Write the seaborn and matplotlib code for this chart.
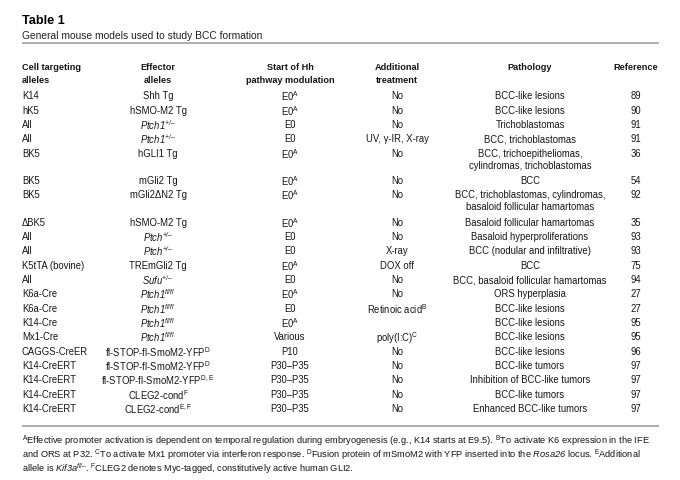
import matplotlib
matplotlib.use("Agg")
import matplotlib.pyplot as plt
from matplotlib import font_manager
import seaborn as sns
import pandas as pd

# ---------------- data ----------------
cell_alleles = ["K14", "hK5", "All", "All", "BK5", "BK5", "BK5", "ΔBK5", "All", "All",
                "K5tTA (bovine)", "All", "K6a-Cre", "K6a-Cre", "K14-Cre", "Mx1-Cre",
                "CAGGS-CreER", "K14-CreERT", "K14-CreERT", "K14-CreERT", "K14-CreERT"]
effector_alleles = ["Shh Tg", "hSMO-M2 Tg", r"$\mathsf{Ptch1}^{\mathsf{+/–}}$", r"$\mathsf{Ptch1}^{\mathsf{+/–}}$",
                    "hGLI1 Tg", "mGli2 Tg", "mGli2ΔN2 Tg", "hSMO-M2 Tg",
                    r"$\mathsf{Ptch}^{\mathsf{+/–}}$", r"$\mathsf{Ptch}^{\mathsf{+/–}}$", "TREmGli2 Tg",
                    r"$\mathsf{Sufu}^{\mathsf{+/–}}$", r"$\mathsf{Ptch1}^{\mathsf{fl/fl}}$",
                    r"$\mathsf{Ptch1}^{\mathsf{fl/fl}}$", r"$\mathsf{Ptch1}^{\mathsf{fl/fl}}$",
                    r"$\mathsf{Ptch1}^{\mathsf{fl/fl}}$",
                    r"fl-STOP-fl-SmoM2-YFP$^{\mathrm{D}}$", r"fl-STOP-fl-SmoM2-YFP$^{\mathrm{D}}$",
                    r"fl-STOP-fl-SmoM2-YFP$^{\mathrm{D,E}}$", r"CLEG2-cond$^{\mathrm{F}}$",
                    r"CLEG2-cond$^{\mathrm{E,F}}$"]
hh_start = [r"E0$^{\mathrm{A}}$", r"E0$^{\mathrm{A}}$", "E0", "E0", r"E0$^{\mathrm{A}}$",
            r"E0$^{\mathrm{A}}$", r"E0$^{\mathrm{A}}$", r"E0$^{\mathrm{A}}$", "E0", "E0",
            r"E0$^{\mathrm{A}}$", "E0", r"E0$^{\mathrm{A}}$", "E0", r"E0$^{\mathrm{A}}$",
            "Various", "P10", "P30–P35", "P30–P35", "P30–P35", "P30–P35"]
treatment = ["No", "No", "No", "UV, γ-IR, X-ray", "No", "No", "No", "No", "No", "X-ray",
             "DOX off", "No", "No", r"Retinoic acid$^{\mathrm{B}}$", "", r"poly(I:C)$^{\mathrm{C}}$",
             "No", "No", "No", "No", "No"]
pathology = ["BCC-like lesions", "BCC-like lesions", "Trichoblastomas", "BCC, trichoblastomas",
             "BCC, trichoepitheliomas,\ncylindromas, trichoblastomas", "BCC",
             "BCC, trichoblastomas, cylindromas,\nbasaloid follicular hamartomas",
             "Basaloid follicular hamartomas", "Basaloid hyperproliferations",
             "BCC (nodular and infiltrative)", "BCC", "BCC, basaloid follicular hamartomas",
             "ORS hyperplasia", "BCC-like lesions", "BCC-like lesions", "BCC-like lesions",
             "BCC-like lesions", "BCC-like tumors", "Inhibition of BCC-like tumors",
             "BCC-like tumors", "Enhanced BCC-like tumors"]
reference = ["89", "90", "91", "91", "36", "54", "92", "35", "93", "93", "75", "94",
             "27", "27", "95", "95", "96", "97", "97", "97", "97"]

headers = [["Cell targeting", "alleles"], ["Effector", "alleles"],
           ["Start of Hh", "pathway modulation"], ["Additional", "treatment"],
           ["Pathology"], ["Reference"]]

title = "Table 1"
subtitle = "General mouse models used to study BCC formation"
footnotes = [
    r"$^{\mathrm{A}}$Effective promoter activation is dependent on temporal regulation during embryogenesis (e.g., K14 starts at E9.5). $^{\mathrm{B}}$To activate K6 expression in the IFE",
    r"and ORS at P32. $^{\mathrm{C}}$To activate Mx1 promoter via interferon response. $^{\mathrm{D}}$Fusion protein of mSmoM2 with YFP inserted into the $\mathsf{Rosa26}$ locus. $^{\mathrm{E}}$Additional",
    r"allele is $\mathsf{Kif3a}^{\mathsf{fl/–}}$. $^{\mathrm{F}}$CLEG2 denotes Myc-tagged, constitutively active human GLI2.",
]

df = pd.DataFrame({"cell": cell_alleles, "effector": effector_alleles, "start": hh_start,
                   "treatment": treatment, "pathology": pathology, "reference": reference})

# ---------------- style ----------------
sns.set_theme(style="white")


def has_font(name):
    try:
        font_manager.findfont(name, fallback_to_default=False)
        return True
    except Exception:
        return False


narrow = "Liberation Sans Narrow" if has_font("Liberation Sans Narrow") else "Liberation Sans"
plt.rcParams["font.family"] = [narrow, "DejaVu Sans"]
plt.rcParams["mathtext.fontset"] = "custom"
plt.rcParams["mathtext.rm"] = narrow
plt.rcParams["mathtext.it"] = narrow + ":italic"
plt.rcParams["mathtext.sf"] = narrow + ":italic"
plt.rcParams["mathtext.bf"] = narrow + ":bold"

fig = plt.figure(figsize=(6.8, 4.81), dpi=100)
ax = fig.add_axes([0, 0, 1, 1])
ax.set_xlim(0, 680)
ax.set_ylim(481, 0)
ax.axis("off")

txt_color = "#151515"
body_fs = 6.85
head_fs = 6.55
base_off = 3.4   # from visual centre of capitals to baseline (px)
math_off = 2.0   # mathtext strings sit slightly high with baseline alignment


def put(x, y, s, **kw):
    if "$" in s:
        y += math_off
    ax.text(x, y, s, va="baseline", **kw)


# title block
ax.text(22, 20 + 4.3, title, fontsize=9.2, fontweight="bold",
        family=["Liberation Sans", "DejaVu Sans"], va="baseline", ha="left", color="#000000")
ax.text(22, 35 + 3.7, subtitle, fontsize=7.4, va="baseline", ha="left", color="#222222")
ax.plot([22, 659], [43.5, 43.5], color="#a0a0a0", lw=1.2, solid_capstyle="butt")

col_x = [22, 158, 290, 397, 530, 636]
col_ha = ["left", "center", "center", "center", "center", "center"]

# headers
for (lines, x, ha) in zip(headers, col_x, col_ha):
    for j, line in enumerate(lines):
        put(x, 67 + 13 * j + base_off, line, fontsize=head_fs, fontweight="bold",
            ha=ha, color=txt_color)

# rows
single = 14.33
line_step = 11.8
y = 96.0
cols = ["cell", "effector", "start", "treatment", "pathology", "reference"]
for _, row in df.iterrows():
    nlines = 1
    for c, x, ha in zip(cols, col_x, col_ha):
        lines = row[c].split("\n")
        nlines = max(nlines, len(lines))
        for j, line in enumerate(lines):
            if line:
                put(x, y + line_step * j + base_off, line, fontsize=body_fs, ha=ha,
                    color=txt_color)
    y += single + (nlines - 1) * 13.0

ax.plot([22, 659], [426.5, 426.5], color="#a0a0a0", lw=1.2, solid_capstyle="butt")

for i, fn in enumerate(footnotes):
    put(22, 440 + 13.8 * i + 3.0 - 1.0, fn, fontsize=6.7, ha="left", color=txt_color)

fig.savefig("out.png", dpi=100, facecolor="white")
